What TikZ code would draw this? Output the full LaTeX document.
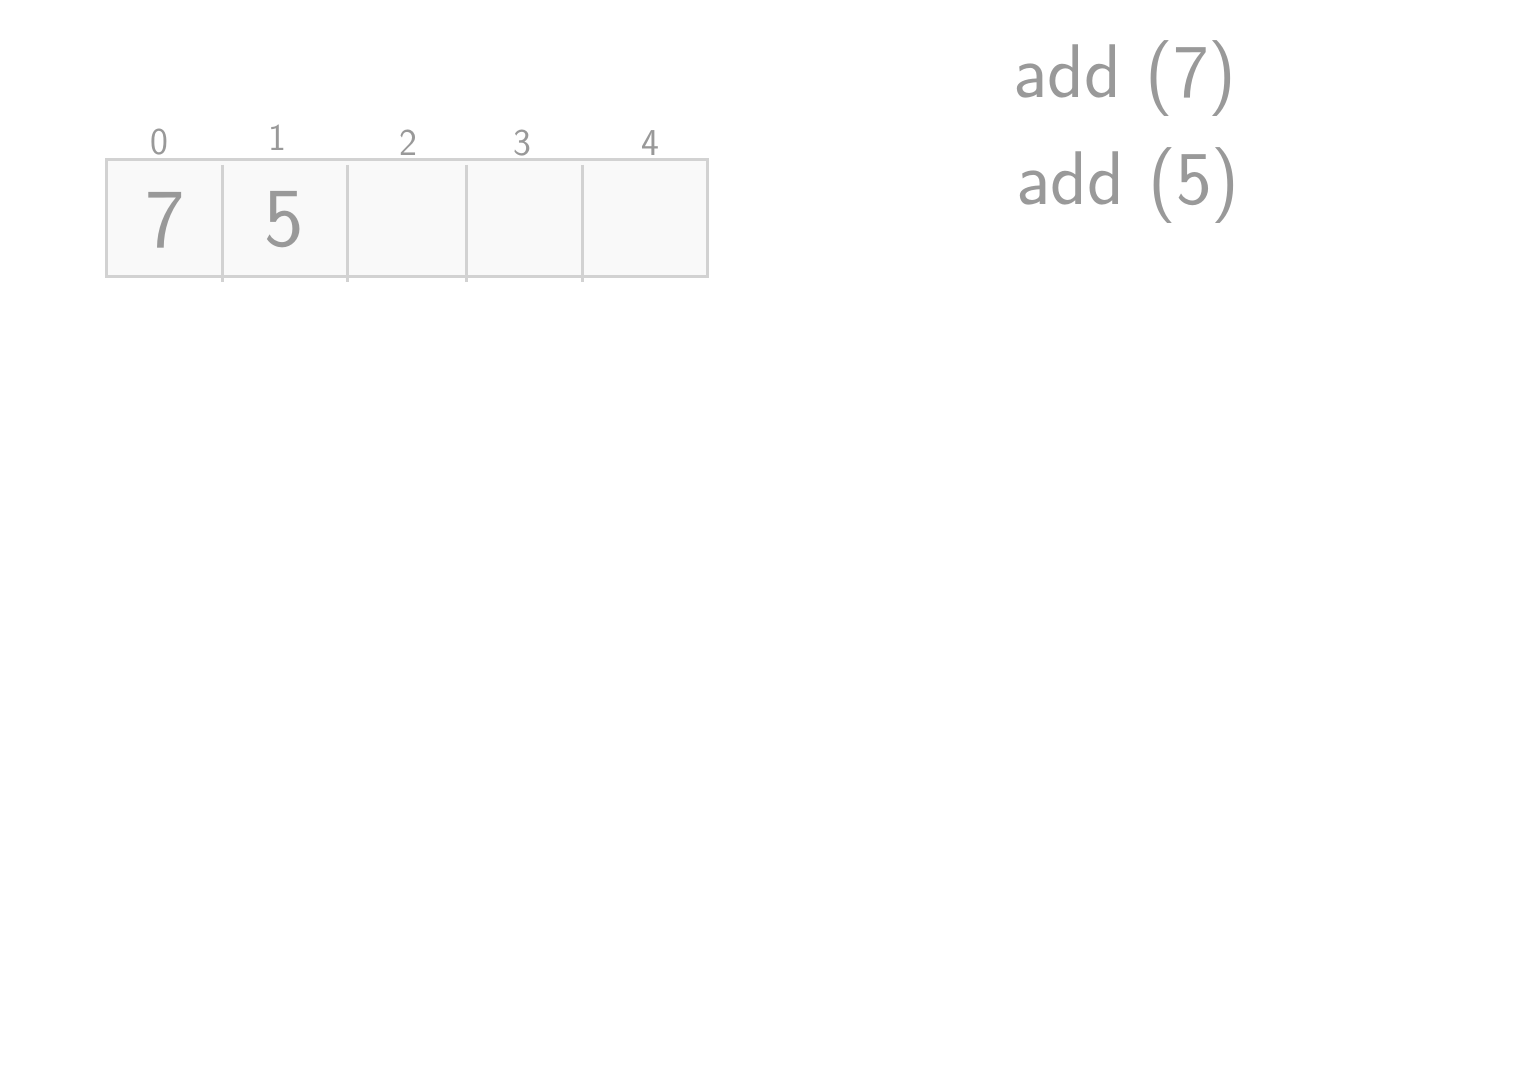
\documentclass[tikz,border=0pt]{standalone}
\usepackage{tikz}
\usetikzlibrary{positioning}
\definecolor{inkgray}{HTML}{999999}
\definecolor{boxline}{HTML}{D2D2D2}
\definecolor{boxfill}{HTML}{F9F9F9}

\begin{document}
\begin{tikzpicture}[x=0.5pt,y=-0.5pt,semithick,font=\sffamily]
  %\tikzstyle{every node}=[draw=red]
	\tikzstyle{index}=[text=inkgray,font=\sffamily\fontsize{19}{19}\selectfont,inner sep=0pt]
	\tikzstyle{value}=[text=inkgray,font=\sffamily\fontsize{42}{42}\selectfont,inner sep=0pt]
	\tikzstyle{call}=[text=inkgray,font=\sffamily\fontsize{38}{38}\selectfont,inner sep=0pt,anchor=base west]
	\tikzstyle{divider}=[draw=boxline,line width=1.5pt]

  \useasboundingbox (0,0) rectangle (1539,1090);

  \node[draw=boxline,fill=boxfill,line width=1.5pt,minimum width=300.5pt,minimum height=58.5pt,
        inner sep=0pt] (arr) at (406.5,218.5) {};

  \foreach \x in {222,347,466,582}
    \draw[divider] (\x,165) -- (\x,282);

  \foreach \i/\x/\y in {0/159/142,1/277/138,2/408/143,3/522/143,4/650/143}
    \node[index] (i\i) at (\x,\y) {\i};

  \node[value] (v0) at (165,220) {7};
  \node[value] (v1) at (284,220) {5};

  \node[call] (add7) at (1013,98) {add (7)};
  \node[call] (add5) at (1016,205) {add (5)};
\end{tikzpicture}
\end{document}
